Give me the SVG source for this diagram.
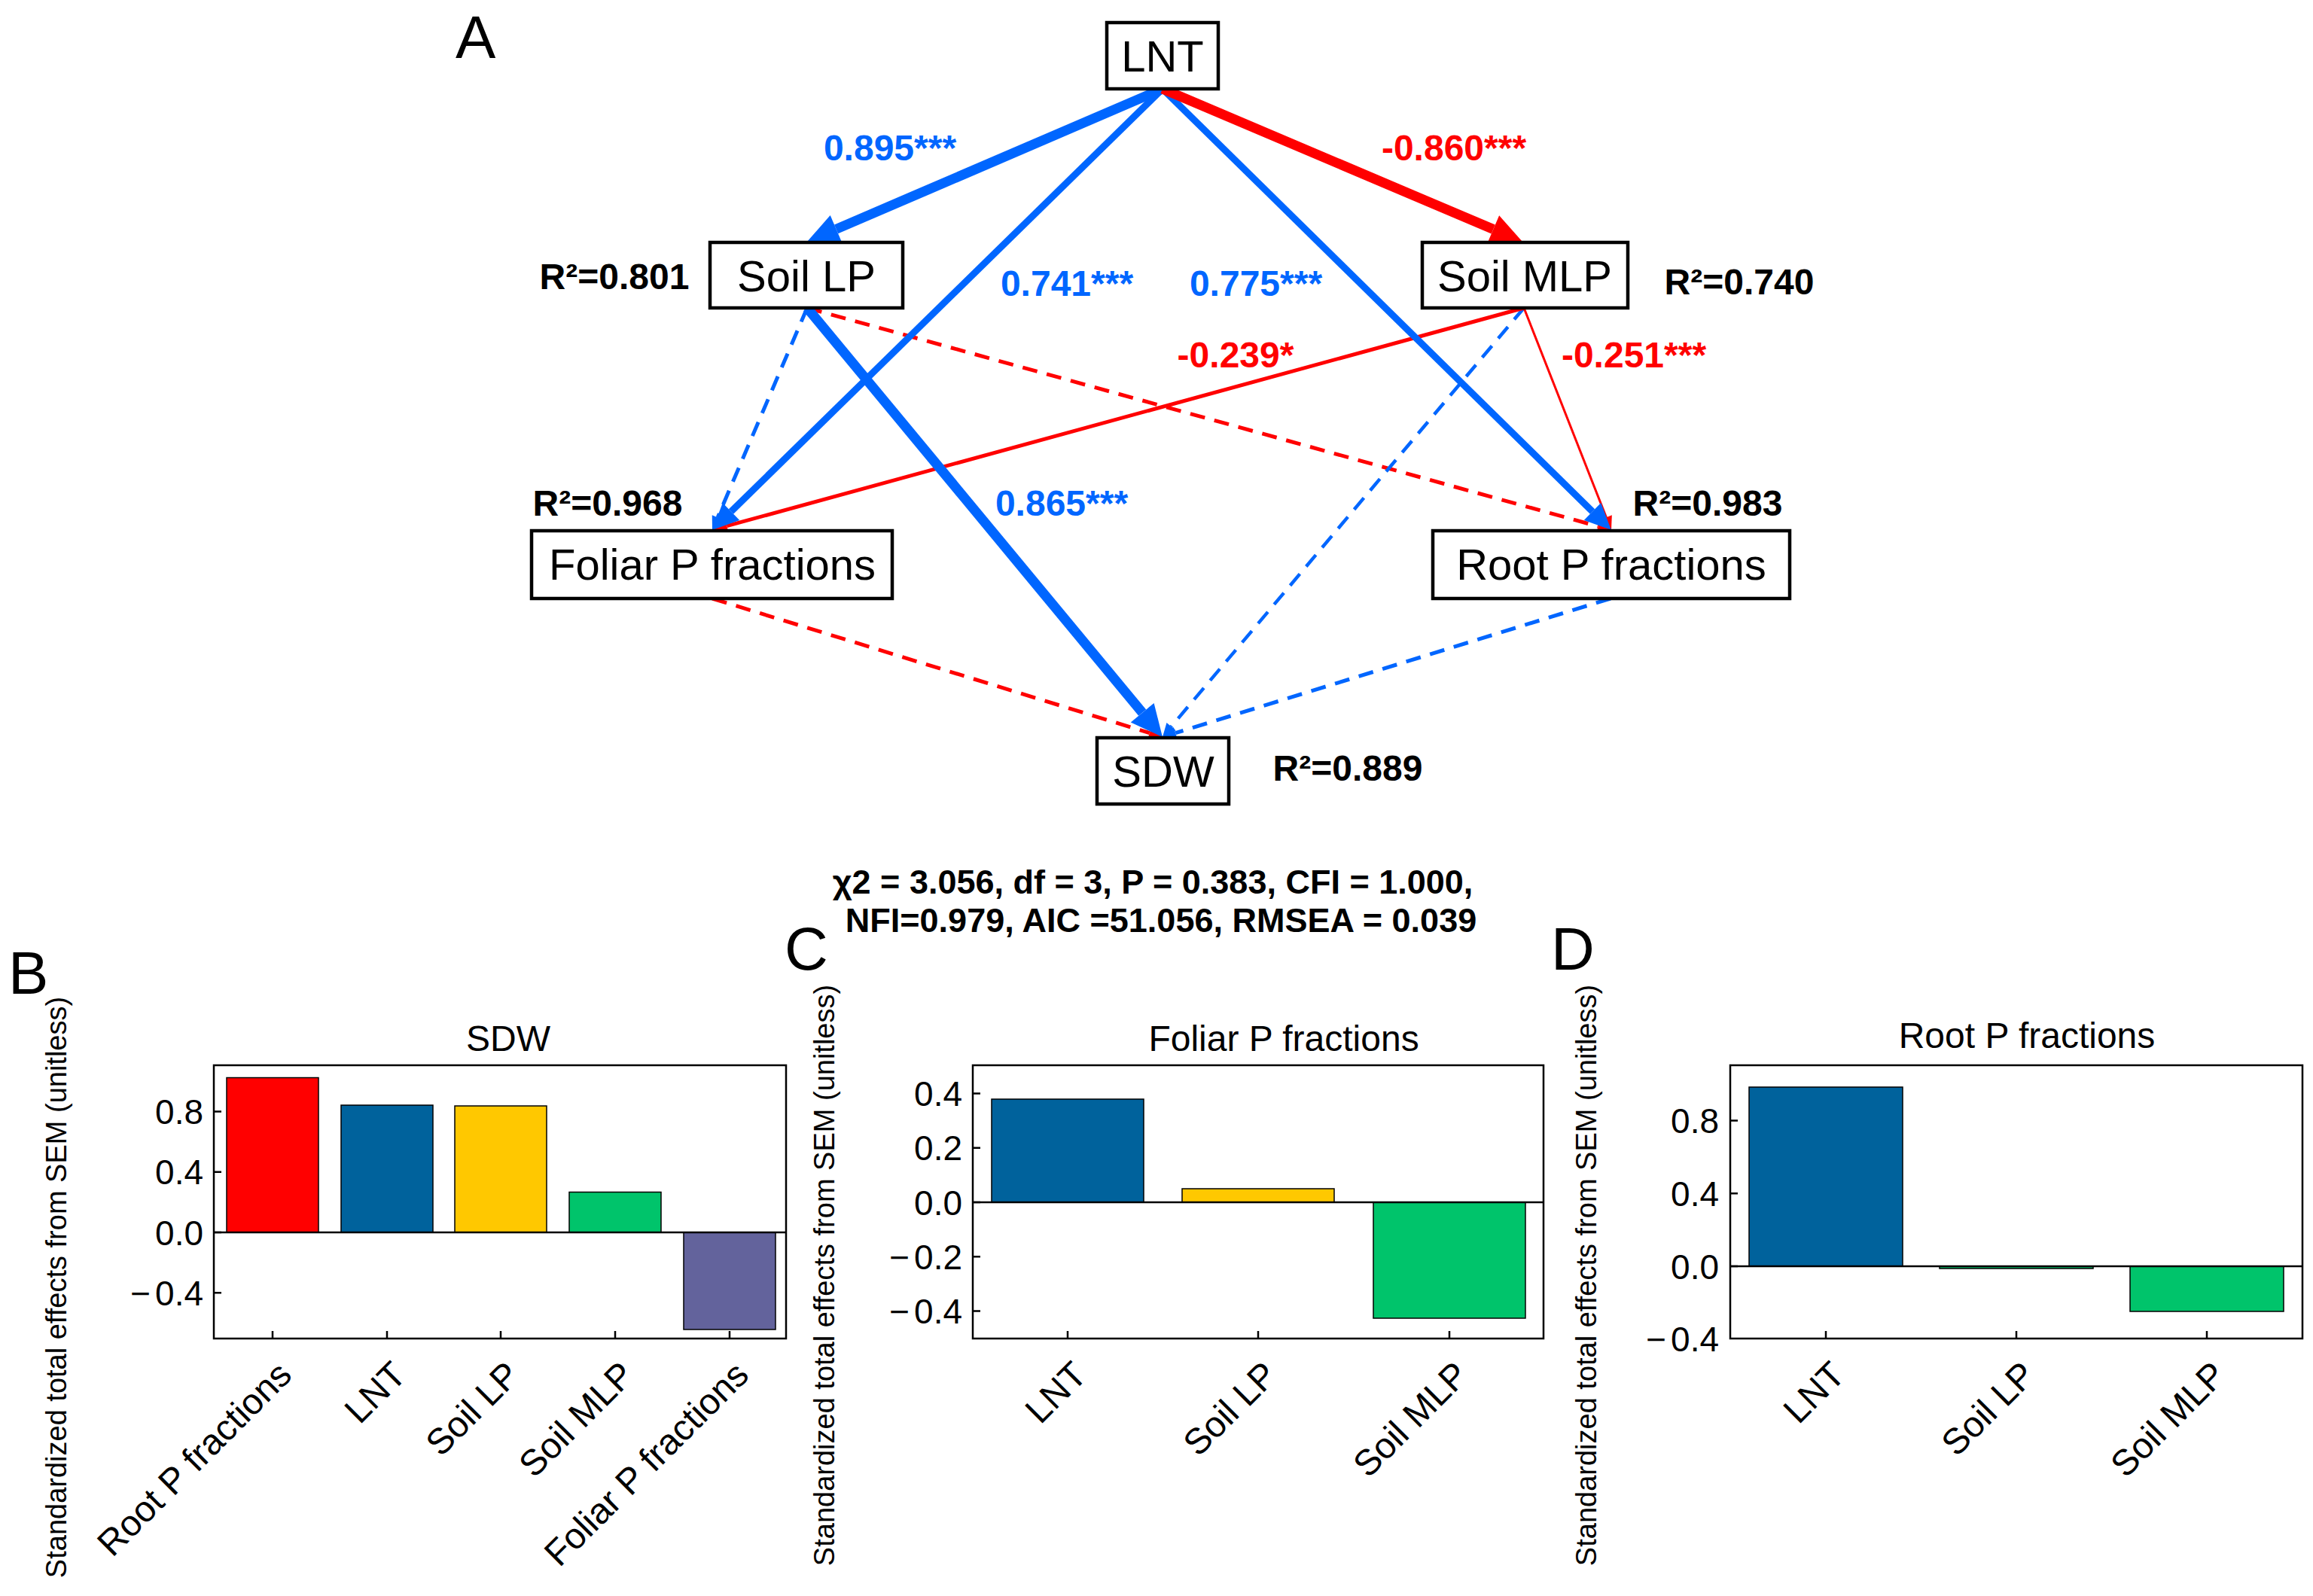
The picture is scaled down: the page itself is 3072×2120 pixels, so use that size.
<svg xmlns="http://www.w3.org/2000/svg" width="3072" height="2120" viewBox="0 0 3072 2120">
<style>
text{font-family:"Liberation Sans",Arial,sans-serif}
.box{fill:#fff;stroke:#000;stroke-width:4.5}
.nl{font-size:58px;text-anchor:middle;fill:#000}
.coef{font-size:48px;font-weight:bold;text-anchor:middle}
.cb{fill:#0066FF}
.cr{fill:#FF0000}
.r2{font-size:48px;font-weight:bold;text-anchor:middle;fill:#000}
.eb{stroke:#0066FF;fill:none}
.er{stroke:#FF0000;fill:none}
.dash{stroke-dasharray:20 13}
.plet{font-size:80px;fill:#000}
.fit{font-size:45px;font-weight:bold;text-anchor:middle;fill:#000}
.frame{fill:none;stroke:#000;stroke-width:2.5}
.ax{stroke:#000;stroke-width:2.5}
.tk{font-size:46px;text-anchor:end;fill:#000}
.ttl{font-size:48px;text-anchor:middle;fill:#000}
.yl{font-size:38px;text-anchor:middle;fill:#000}
.xl{font-size:48px;text-anchor:end;fill:#000}
.bar{stroke:#000;stroke-width:1.5}
</style>
<defs>
<marker id="hBL" markerUnits="userSpaceOnUse" orient="auto" markerWidth="44" markerHeight="44" refX="0" refY="22" overflow="visible"><path d="M0,2 L42,22 L0,42 z" fill="#0066FF"/></marker>
<marker id="hRL" markerUnits="userSpaceOnUse" orient="auto" markerWidth="44" markerHeight="44" refX="0" refY="22" overflow="visible"><path d="M0,2 L42,22 L0,42 z" fill="#FF0000"/></marker>
<marker id="hBM" markerUnits="userSpaceOnUse" orient="auto" markerWidth="36" markerHeight="36" refX="0" refY="18" overflow="visible"><path d="M0,2 L35,18 L0,34 z" fill="#0066FF"/></marker>
<marker id="hBS" markerUnits="userSpaceOnUse" orient="auto" markerWidth="20" markerHeight="20" refX="0" refY="10" overflow="visible"><path d="M0,2 L18,10 L0,18 z" fill="#0066FF"/></marker>
<marker id="hRS" markerUnits="userSpaceOnUse" orient="auto" markerWidth="20" markerHeight="20" refX="0" refY="10" overflow="visible"><path d="M0,2 L18,10 L0,18 z" fill="#FF0000"/></marker>
</defs>
<rect width="3072" height="2120" fill="#fff"/>

<text class="plet" x="605" y="77">A</text>

<g id="connectors">
<line class="eb dash" x1="1072" y1="409" x2="953.1" y2="687.4" stroke-width="5" marker-end="url(#hBS)"/>
<line class="er dash" x1="1072" y1="409" x2="2122.6" y2="699.2" stroke-width="5" marker-end="url(#hRS)"/>
<line class="eb dash" x1="2024" y1="409" x2="1555.6" y2="965.2" stroke-width="4.5" marker-end="url(#hBS)"/>
<line class="er dash" x1="946" y1="795" x2="1526.8" y2="973.7" stroke-width="5" marker-end="url(#hRS)"/>
<line class="eb dash" x1="2139" y1="795" x2="1561.2" y2="973.7" stroke-width="5" marker-end="url(#hBS)"/>
<line class="er" x1="2024" y1="409" x2="965.3" y2="698.7" stroke-width="5" marker-end="url(#hRS)"/>
<line class="er" x1="2024" y1="409" x2="2133.4" y2="687.3" stroke-width="3" marker-end="url(#hRS)"/>
<line class="eb" x1="1544" y1="118" x2="971" y2="679.5" stroke-width="9" marker-end="url(#hBM)"/>
<line class="eb" x1="1544" y1="118" x2="2115" y2="679.5" stroke-width="9" marker-end="url(#hBM)"/>
<line class="eb" x1="1072" y1="409" x2="1517.2" y2="946.7" stroke-width="13" marker-end="url(#hBL)"/>
<line class="eb" x1="1544" y1="118" x2="1110.6" y2="304.4" stroke-width="13" marker-end="url(#hBL)"/>
<line class="er" x1="1544" y1="118" x2="1983.3" y2="304.6" stroke-width="13" marker-end="url(#hRL)"/>
</g>

<g id="node-LNT"><rect class="box" x="1470" y="30" width="148" height="88"/><text class="nl" x="1544" y="95">LNT</text></g>
<g id="node-SoilLP"><rect class="box" x="943" y="322" width="256" height="87"/><text class="nl" x="1071" y="387">Soil LP</text></g>
<g id="node-SoilMLP"><rect class="box" x="1889" y="322" width="273" height="87"/><text class="nl" x="2025" y="387">Soil MLP</text></g>
<g id="node-Foliar"><rect class="box" x="706" y="705" width="479" height="90"/><text class="nl" x="946" y="770">Foliar P fractions</text></g>
<g id="node-Root"><rect class="box" x="1903" y="705" width="474" height="90"/><text class="nl" x="2140" y="770">Root P fractions</text></g>
<g id="node-SDW"><rect class="box" x="1457" y="980" width="175" height="88"/><text class="nl" x="1545" y="1045">SDW</text></g>

<g id="edge-labels">
<text class="coef cb" x="1182" y="213">0.895***</text>
<text class="coef cr" x="1931" y="213">-0.860***</text>
<text class="coef cb" x="1417" y="393">0.741***</text>
<text class="coef cb" x="1668" y="393">0.775***</text>
<text class="coef cr" x="1641" y="488">-0.239*</text>
<text class="coef cr" x="2170" y="488">-0.251***</text>
<text class="coef cb" x="1410" y="685">0.865***</text>
</g>
<g id="r2-labels">
<text class="r2" x="816" y="384">R²=0.801</text>
<text class="r2" x="2310" y="391">R²=0.740</text>
<text class="r2" x="807" y="685">R²=0.968</text>
<text class="r2" x="2268" y="685">R²=0.983</text>
<text class="r2" x="1790" y="1037">R²=0.889</text>
</g>

<text class="fit" x="1531" y="1187">χ2 = 3.056, df = 3, P = 0.383, CFI = 1.000,</text>
<text class="fit" x="1542" y="1238">NFI=0.979, AIC =51.056, RMSEA = 0.039</text>

<!-- Panel B -->
<g id="panel-B">
<text class="plet" x="11" y="1320">B</text>
<text class="ttl" x="675" y="1396">SDW</text>
<rect class="bar" x="301" y="1431.5" width="122" height="205.5" fill="#FF0000"/>
<rect class="bar" x="453" y="1468" width="122" height="169" fill="#00629C"/>
<rect class="bar" x="604" y="1469" width="122" height="168" fill="#FFC800"/>
<rect class="bar" x="756" y="1583.5" width="122" height="53.5" fill="#00C46B"/>
<rect class="bar" x="908" y="1637" width="122" height="129" fill="#63639C"/>
<line class="ax" x1="284" y1="1637" x2="1044" y2="1637"/>
<rect class="frame" x="284" y="1415" width="760" height="363"/>
<path class="ax" d="M284,1476.4h10M284,1556.7h10M284,1637h10M284,1717.3h10M362,1778v-10M514,1778v-10M665,1778v-10M817,1778v-10M969,1778v-10"/>
<text class="tk" x="270" y="1493">0.8</text>
<text class="tk" x="270" y="1573">0.4</text>
<text class="tk" x="270" y="1653.5">0.0</text>
<text class="tk" x="270" y="1734">−<tspan dx="6">0.4</tspan></text>
<text class="yl" transform="translate(88,1710) rotate(-90)">Standardized total effects from SEM (unitless)</text>
<text class="xl" transform="translate(390,1829) rotate(-45)">Root P fractions</text>
<text class="xl" transform="translate(542,1829) rotate(-45)">LNT</text>
<text class="xl" transform="translate(693,1829) rotate(-45)">Soil LP</text>
<text class="xl" transform="translate(845,1829) rotate(-45)">Soil MLP</text>
<text class="xl" transform="translate(997,1829) rotate(-45)">Foliar P fractions</text>
</g>

<!-- Panel C -->
<g id="panel-C">
<text class="plet" x="1042" y="1288">C</text>
<text class="ttl" x="1705" y="1396">Foliar P fractions</text>
<rect class="bar" x="1317" y="1460" width="202" height="137" fill="#00629C"/>
<rect class="bar" x="1570" y="1579" width="202" height="18" fill="#FFC800"/>
<rect class="bar" x="1824" y="1597" width="202" height="154" fill="#00C46B"/>
<line class="ax" x1="1292" y1="1597" x2="2050" y2="1597"/>
<rect class="frame" x="1292" y="1415" width="758" height="363"/>
<path class="ax" d="M1292,1452.6h10M1292,1524.8h10M1292,1597h10M1292,1669.2h10M1292,1741.4h10M1418,1778v-10M1671,1778v-10M1925,1778v-10"/>
<text class="tk" x="1278" y="1469">0.4</text>
<text class="tk" x="1278" y="1541">0.2</text>
<text class="tk" x="1278" y="1613.5">0.0</text>
<text class="tk" x="1278" y="1686">−<tspan dx="6">0.2</tspan></text>
<text class="tk" x="1278" y="1758">−<tspan dx="6">0.4</tspan></text>
<text class="yl" transform="translate(1108,1694) rotate(-90)">Standardized total effects from SEM (unitless)</text>
<text class="xl" transform="translate(1446,1829) rotate(-45)">LNT</text>
<text class="xl" transform="translate(1699,1829) rotate(-45)">Soil LP</text>
<text class="xl" transform="translate(1953,1829) rotate(-45)">Soil MLP</text>
</g>

<!-- Panel D -->
<g id="panel-D">
<text class="plet" x="2060" y="1288">D</text>
<text class="ttl" x="2692" y="1392">Root P fractions</text>
<rect class="bar" x="2323" y="1444" width="204" height="238" fill="#00629C"/>
<rect class="bar" x="2576" y="1682" width="204" height="3" fill="#00C46B"/>
<rect class="bar" x="2829" y="1682" width="204" height="60" fill="#00C46B"/>
<line class="ax" x1="2298" y1="1682" x2="3058" y2="1682"/>
<rect class="frame" x="2298" y="1415" width="760" height="363"/>
<path class="ax" d="M2298,1488.6h10M2298,1585.3h10M2298,1682h10M2425,1778v-10M2678,1778v-10M2931,1778v-10"/>
<text class="tk" x="2283" y="1505">0.8</text>
<text class="tk" x="2283" y="1602">0.4</text>
<text class="tk" x="2283" y="1698.5">0.0</text>
<text class="tk" x="2283" y="1795">−<tspan dx="6">0.4</tspan></text>
<text class="yl" transform="translate(2120,1694) rotate(-90)">Standardized total effects from SEM (unitless)</text>
<text class="xl" transform="translate(2453,1829) rotate(-45)">LNT</text>
<text class="xl" transform="translate(2706,1829) rotate(-45)">Soil LP</text>
<text class="xl" transform="translate(2959,1829) rotate(-45)">Soil MLP</text>
</g>
</svg>
